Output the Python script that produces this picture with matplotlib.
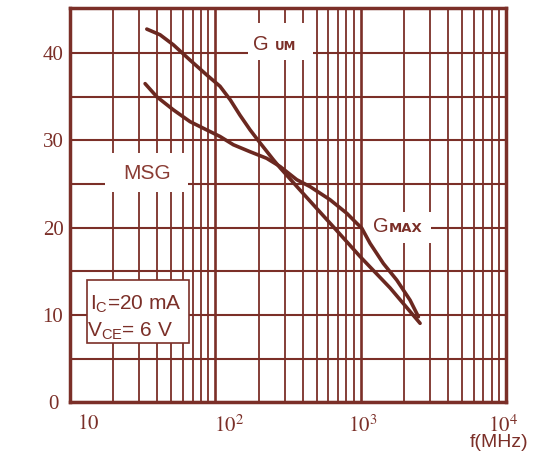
import numpy as np
import matplotlib.pyplot as plt
from matplotlib.patches import Rectangle
from matplotlib.ticker import LogLocator, FixedLocator, NullFormatter

plt.rcParams['font.family'] = ['Liberation Sans', 'DejaVu Sans']
plt.rcParams['mathtext.fontset'] = 'stix'

# G_UM curve (upper at low f)
gum_f = [33.9, 41.8, 51.6, 67.2, 87.5, 108, 127, 148, 174, 204, 251, 280,
         384, 650, 992, 1596, 2566]
gum_db = [42.75, 42.1, 40.95, 39.2, 37.5, 36.2, 34.65, 32.9, 31.2, 29.7, 27.8, 26.85,
          24.3, 20.1, 16.7, 13.1, 9.05]

# MSG / G_MAX curve
msg_f = [33.0, 39.7, 51.6, 67.2, 87.5, 108, 133.5, 174, 226, 280, 364, 450, 617,
         804, 942, 1019, 1163, 1435, 1774, 2190, 2498]
msg_db = [36.5, 35.0, 33.5, 32.15, 31.2, 30.45, 29.5, 28.7, 27.95, 27.0, 25.5, 24.7, 23.2,
          21.65, 20.5, 19.95, 18.2, 15.9, 14.0, 11.7, 9.8]

y_ticks = [0, 10, 20, 30, 40]
y_minor = [5, 15, 25, 35]
x_decades = [10, 100, 1000, 10000]
x_labels = ['$10$', '$10^{2}$', '$10^{3}$', '$10^{4}$']

grid_c = '#7b2f28'
line_c = '#6b2820'
text_c = '#7b2f28'

fig = plt.figure(figsize=(5.42, 4.55), dpi=100)
ax = fig.add_axes([69.7/542, (455-402.3)/455, 436.3/542, 394.6/455])
ax.set_xscale('log')
ax.set_xlim(10, 10000)
ax.set_ylim(0, 45.2)

# grid
ax.xaxis.set_major_locator(FixedLocator(x_decades))
ax.xaxis.set_minor_locator(LogLocator(base=10, subs=np.arange(2, 10)))
ax.xaxis.set_major_formatter(NullFormatter())
ax.xaxis.set_minor_formatter(NullFormatter())
ax.yaxis.set_major_locator(FixedLocator(y_ticks))
ax.yaxis.set_minor_locator(FixedLocator(y_minor))
ax.set_yticklabels([str(v) for v in y_ticks])
ax.grid(which='major', axis='x', color=grid_c, lw=1.9, zorder=1)
ax.grid(which='minor', axis='x', color=grid_c, lw=1.3, zorder=1)
ax.grid(which='both', axis='y', color=grid_c, lw=1.5, zorder=1)
ax.set_axisbelow(True)
ax.tick_params(which='both', length=0)
ax.tick_params(axis='y', pad=12, labelsize=15, labelcolor=text_c)
for lab in ax.get_yticklabels():
    lab.set_fontfamily('Liberation Serif')
    lab.set_ha('center')
for s in ax.spines.values():
    s.set_color(grid_c)
    s.set_linewidth(2.5)

# white label boxes covering the grid
for (bx, by, bw, bh) in [(0.4087, 0.8675, 0.149, 0.0937),
                         (0.0809, 0.533, 0.190, 0.0988),
                         (0.6722, 0.4037, 0.156, 0.0786)]:
    ax.add_patch(Rectangle((bx, by), bw, bh, transform=ax.transAxes,
                           facecolor='white', edgecolor='none', zorder=2))
ax.add_patch(Rectangle((0.0397, 0.1503), 0.2338, 0.1597, transform=ax.transAxes,
                       facecolor='white', edgecolor=grid_c, lw=1.2, zorder=2))

# curves
ax.plot(gum_f, gum_db, color=line_c, lw=2.6, solid_capstyle='round',
        solid_joinstyle='round', zorder=3)
ax.plot(msg_f, msg_db, color=line_c, lw=2.6, solid_capstyle='round',
        solid_joinstyle='round', zorder=3)

# labels
ax.text(0.4208, 0.8928, 'G', transform=ax.transAxes, fontsize=14.5, color=text_c,
        va='baseline', ha='left', zorder=4)
ax.text(0.4705, 0.8928, 'UM', transform=ax.transAxes, fontsize=8.5, color=text_c,
        fontfamily='DejaVu Sans', fontweight='bold', va='baseline', ha='left', zorder=4)
ax.text(0.1226, 0.5659, 'MSG', transform=ax.transAxes, fontsize=15, color='#8a3c34',
        va='baseline', ha='left', zorder=4)
ax.text(0.6958, 0.4316, 'G', transform=ax.transAxes, fontsize=14.5, color=text_c,
        va='baseline', ha='left', zorder=4)
ax.text(0.731, 0.4316, 'MAX', transform=ax.transAxes, fontsize=9.5, color=text_c,
        fontfamily='DejaVu Sans', fontweight='bold', va='baseline', ha='left', zorder=4)
ax.text(0.0465, 0.2339, r'$\mathregular{I_C}$=20 mA', transform=ax.transAxes, fontsize=15,
        color=text_c, va='baseline', ha='left', zorder=4)
ax.text(0.040, 0.1655, r'$\mathregular{V_{CE}}$= 6 V', transform=ax.transAxes, fontsize=15,
        color=text_c, va='baseline', ha='left', zorder=4)

# x tick labels
x_lab_pos = [(0.0167, -0.0677), (0.3307, -0.0753), (0.6379, -0.0753), (0.9587, -0.0765)]
for (lx, ly), lab in zip(x_lab_pos, x_labels):
    ax.text(lx, ly, lab, transform=ax.transAxes, fontsize=15, color=text_c,
            va='baseline', ha='left', clip_on=False)
ax.text(0.9175, -0.1145, 'f(MHz)', transform=ax.transAxes, fontsize=14, color=text_c,
        va='baseline', ha='left', clip_on=False)

fig.savefig('out.png', dpi=100)
